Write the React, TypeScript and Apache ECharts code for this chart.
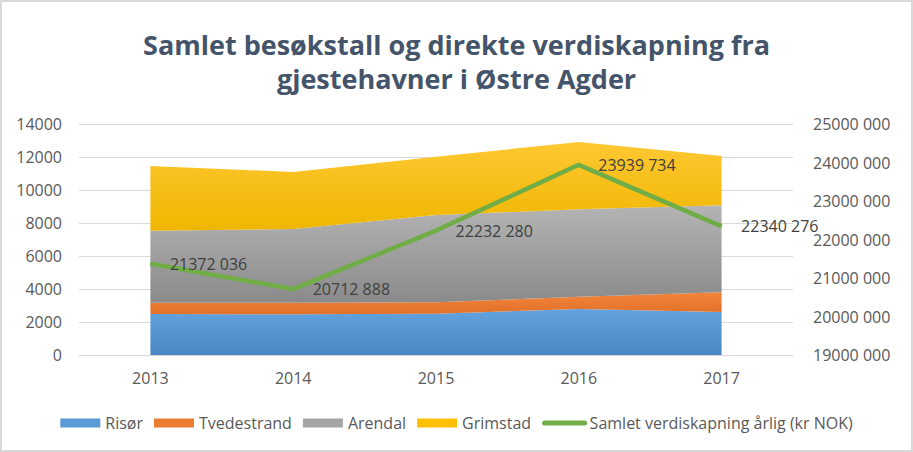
import React, { useEffect, useRef } from "react";
import * as echarts from "echarts";

const years = ["2013", "2014", "2015", "2016", "2017"];
const risor = [2480, 2470, 2500, 2790, 2600];
const tvedestrand = [690, 700, 690, 745, 1200];
const arendal = [4365, 4466, 5295, 5293, 5270];
const grimstad = [3920, 3454, 3525, 4080, 2990];
const verdiskapning = [21372036, 20712888, 22232280, 23939734, 22340276];

const fmt = (v: number) => {
  const t = Math.floor(v / 1000);
  const r = Math.round(v % 1000);
  return t > 0 ? `${t} ${String(r).padStart(3, "0")}` : String(r);
};

const grad = (top: string, bottom: string) =>
  new echarts.graphic.LinearGradient(0, 0, 0, 1, [
    { offset: 0, color: top },
    { offset: 1, color: bottom },
  ]);

export default function App() {
  const ref = useRef<HTMLDivElement>(null);
  useEffect(() => {
    if (!ref.current) return;
    const chart = echarts.init(ref.current, undefined, { renderer: "svg" });
    const font = "Open Sans";
    const area = (name: string, data: number[], top: string, bottom: string, legendColor: string) => ({
      name,
      type: "line",
      stack: "a",
      data,
      symbol: "none",
      lineStyle: { width: 0 },
      areaStyle: { color: grad(top, bottom), opacity: 1 },
      itemStyle: { color: legendColor },
      z: 1,
    });
    chart.setOption({
      animation: false,
      backgroundColor: "#ffffff",
      textStyle: { fontFamily: font },
      title: {
        text: "Samlet besøkstall og direkte verdiskapning fra\ngjestehavner i Østre Agder",
        left: "center",
        top: 22,
        textStyle: {
          fontFamily: font,
          fontSize: 27,
          fontWeight: "bold",
          color: "#44546A",
          lineHeight: 34,
        },
      },
      legend: {
        top: 410,
        left: "center",
        itemWidth: 40,
        itemHeight: 9,
        itemGap: 11,
        textStyle: { fontSize: 16, color: "#595959", fontFamily: font },
        data: [
          { name: "Risør", icon: "rect" },
          { name: "Tvedestrand", icon: "rect" },
          { name: "Arendal", icon: "rect" },
          { name: "Grimstad", icon: "rect" },
          {
            name: "Samlet verdiskapning årlig (kr NOK)",
            itemStyle: { opacity: 0 },
            lineStyle: { width: 5, cap: "round", color: "#70AD47" },
          },
        ],
      },
      grid: { left: 79, right: 120, top: 124, bottom: 97, containLabel: false },
      xAxis: {
        type: "category",
        data: years,
        boundaryGap: true,
        axisLine: { show: true, lineStyle: { color: "#d9d9d9" } },
        axisTick: { show: false },
        axisLabel: { fontSize: 16, color: "#595959", margin: 15 },
      },
      yAxis: [
        {
          type: "value",
          min: 0,
          max: 14000,
          interval: 2000,
          axisLine: { show: false },
          axisTick: { show: false },
          splitLine: { lineStyle: { color: "#d9d9d9" } },
          axisLabel: { fontSize: 16, color: "#595959", margin: 17, formatter: (v: number) => String(v) },
        },
        {
          type: "value",
          min: 19000000,
          max: 25000000,
          interval: 1000000,
          axisLine: { show: false },
          axisTick: { show: false },
          splitLine: { show: false },
          axisLabel: { fontSize: 16, color: "#595959", margin: 20, formatter: (v: number) => fmt(v) },
        },
      ],
      series: [
        area("Risør", risor, "#62a3df", "#4a86c4", "#5B9BD5"),
        area("Tvedestrand", tvedestrand, "#f5843a", "#e0712a", "#ED7D31"),
        area("Arendal", arendal, "#b4b4b4", "#8a8a8a", "#A5A5A5"),
        area("Grimstad", grimstad, "#ffc832", "#efb600", "#FFC000"),
        {
          name: "Samlet verdiskapning årlig (kr NOK)",
          type: "line",
          yAxisIndex: 1,
          data: verdiskapning,
          symbol: "circle",
          symbolSize: 1,
          showSymbol: true,
          lineStyle: { color: "#70AD47", width: 4.5 },
          itemStyle: { color: "#70AD47" },
          z: 5,
          label: {
            show: true,
            position: "right",
            distance: 19,
            fontSize: 16,
            color: "#404040",
            fontFamily: font,
            formatter: (p: any) => fmt(p.value),
          },
        },
      ],
      graphic: [
        {
          type: "rect",
          shape: { x: 1, y: 1, width: 911, height: 450 },
          style: { fill: "none", stroke: "#d9d9d9", lineWidth: 2 },
          silent: true,
        },
      ],
    });
    return () => chart.dispose();
  }, []);
  return (
    <div
      ref={ref}
      style={{ position: "fixed", left: 0, top: 0, width: 913, height: 452 }}
    />
  );
}
